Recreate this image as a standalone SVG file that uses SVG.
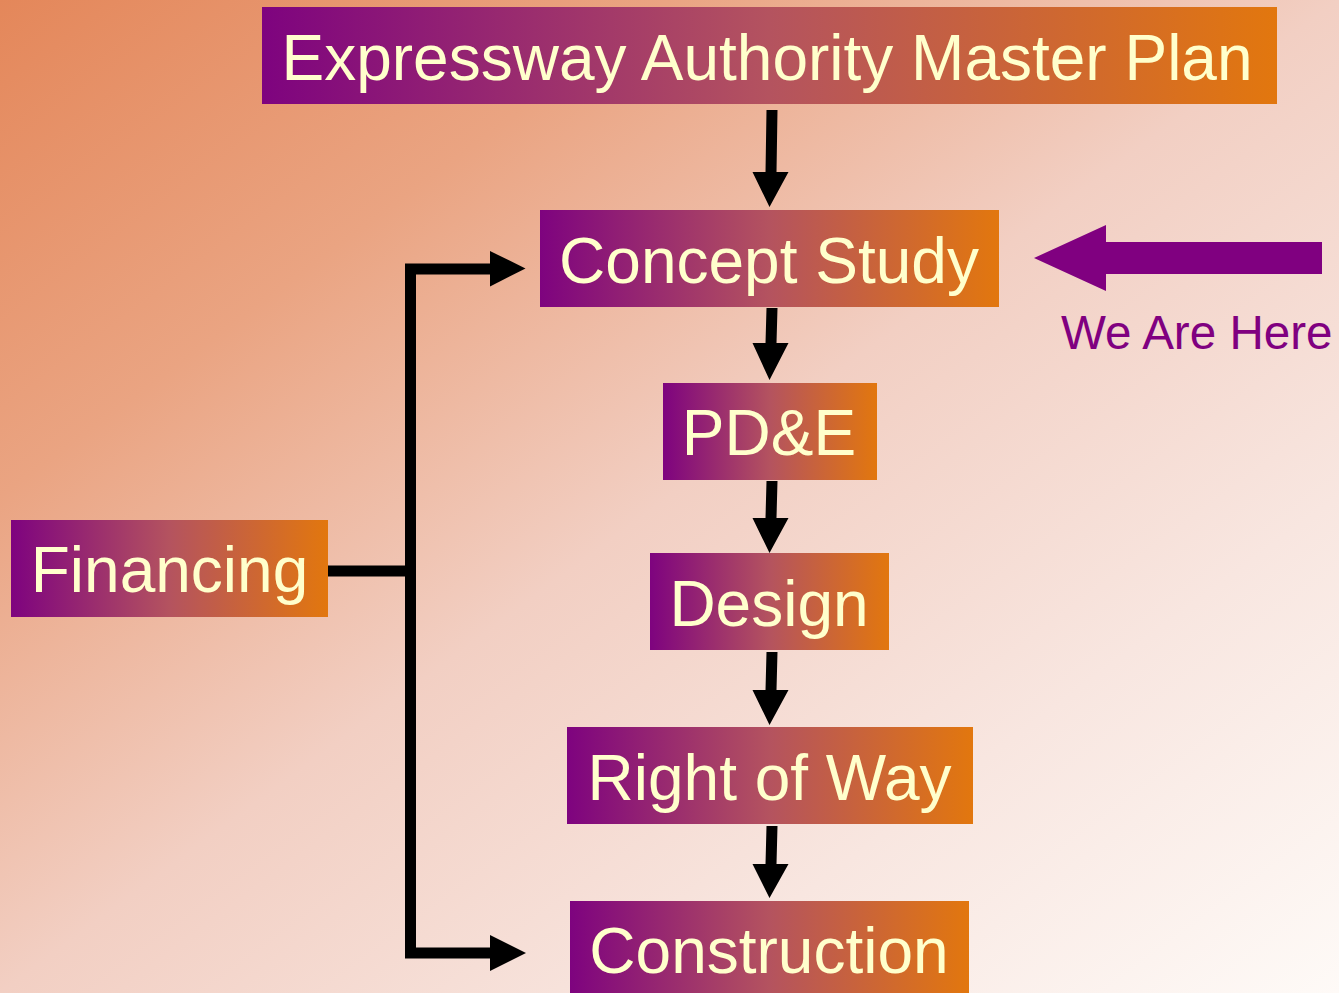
<svg xmlns="http://www.w3.org/2000/svg" width="1339" height="993" viewBox="0 0 1339 993">
  <defs>
    <linearGradient id="bg" x1="0" y1="0" x2="1" y2="1">
      <stop offset="0" stop-color="#E4875A"/>
      <stop offset="0.25" stop-color="#EAA482"/>
      <stop offset="0.5" stop-color="#F2CFC3"/>
      <stop offset="0.75" stop-color="#F8E6E0"/>
      <stop offset="1" stop-color="#FEFAF7"/>
    </linearGradient>
    <linearGradient id="boxFill" x1="0" y1="0" x2="1" y2="0">
      <stop offset="0" stop-color="#7E037F"/>
      <stop offset="0.5" stop-color="#B4535F"/>
      <stop offset="1" stop-color="#E2770E"/>
    </linearGradient>
    <style>
      .box { fill: url(#boxFill); }
      .label { font-family: "Liberation Sans", Arial, sans-serif; font-size: 64px; fill: #FFFFCC; text-anchor: middle; }
      .flow { fill: #000000; }
      .wire { fill: none; stroke: #000000; stroke-width: 11; stroke-linejoin: miter; stroke-linecap: butt; }
      .here { fill: #800080; }
      .hereText { font-family: "Liberation Sans", Arial, sans-serif; font-size: 47.6px; fill: #800080; }
    </style>
  </defs>

  <!-- background -->
  <rect x="0" y="0" width="1339" height="993" fill="url(#bg)"/>

  <!-- connectors -->
  <g id="connectors">
    <!-- vertical chain arrows -->
    <polygon class="flow" points="766.5,110 777.5,110 776.5,172 788.5,172 769.5,207 752.5,172 765.5,172"/>
    <polygon class="flow" points="766.5,308 777.5,308 776.5,343 788.5,343 769.5,380 752.5,343 765.5,343"/>
    <polygon class="flow" points="766.5,481 777.5,481 776.5,518 788.5,518 769.5,553 752.5,518 765.5,518"/>
    <polygon class="flow" points="766.5,652 777.5,652 776.5,690 788.5,690 769.5,725 752.5,690 765.5,690"/>
    <polygon class="flow" points="766.5,826 777.5,826 776.5,864 788.5,864 769.5,898 752.5,864 765.5,864"/>
    <!-- financing bracket -->
    <path class="wire" d="M491,269 H410.5 V953 H491"/>
    <path class="wire" d="M328,571 H410.5"/>
    <polygon class="flow" points="490,251 525.5,268.5 490,286.5"/>
    <polygon class="flow" points="490,935 526,953 490,971"/>
    <!-- position marker -->
    <polygon class="here" points="1034,258 1106,225 1106,242 1322,242 1322,274 1106,274 1106,291"/>
  </g>

  <g id="master-plan">
    <rect class="box" x="262" y="7" width="1015" height="97"/>
    <text class="label" x="767" y="80">Expressway Authority Master Plan</text>
  </g>

  <g id="concept-study">
    <rect class="box" x="540" y="210" width="459" height="97"/>
    <text class="label" x="769" y="283">Concept Study</text>
  </g>

  <g id="pde">
    <rect class="box" x="663" y="383" width="214" height="97"/>
    <text class="label" x="769" y="455">PD&amp;E</text>
  </g>

  <g id="design">
    <rect class="box" x="650" y="553" width="239" height="97"/>
    <text class="label" x="769" y="626">Design</text>
  </g>

  <g id="right-of-way">
    <rect class="box" x="567" y="727" width="406" height="97"/>
    <text class="label" x="769.5" y="800">Right of Way</text>
  </g>

  <g id="construction">
    <rect class="box" x="570" y="901" width="399" height="97"/>
    <text class="label" x="769" y="973">Construction</text>
  </g>

  <g id="financing">
    <rect class="box" x="11" y="520" width="317" height="97"/>
    <text class="label" x="169.5" y="592">Financing</text>
  </g>

  <g id="we-are-here">
    <text class="hereText" x="1061" y="349">We Are Here</text>
  </g>
</svg>
